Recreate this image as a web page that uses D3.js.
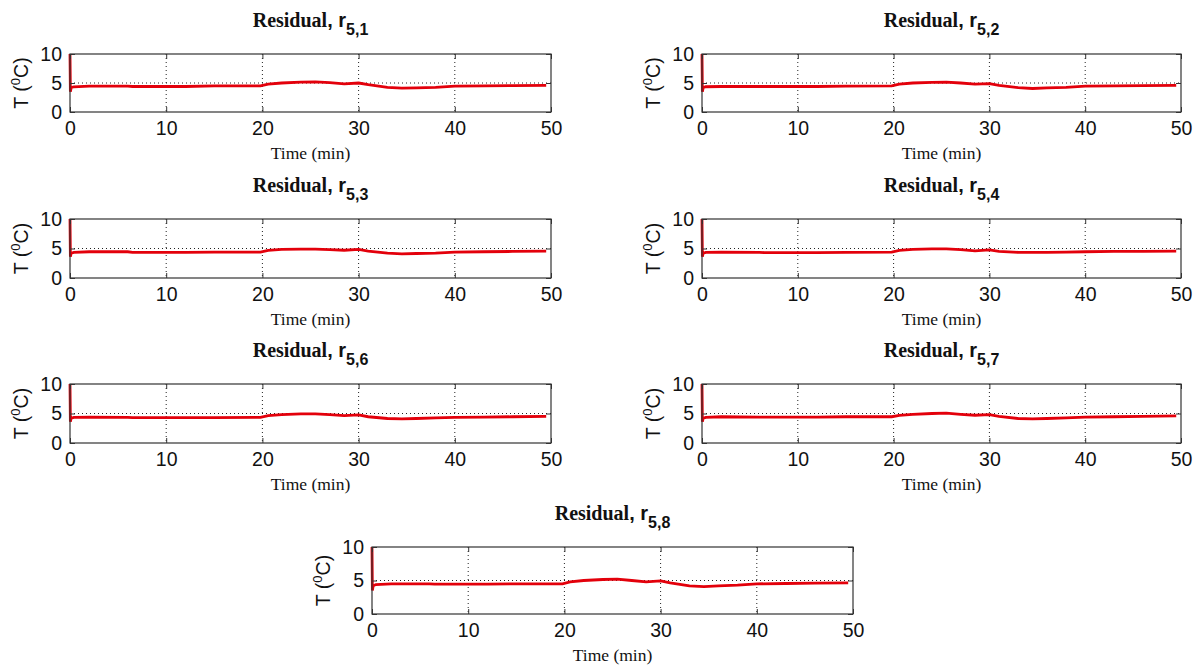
<!DOCTYPE html>
<html><head><meta charset="utf-8">
<script src="https://cdn.jsdelivr.net/npm/d3@7"></script>
<style>body{margin:0;background:#fff}</style>
</head><body>
<script>
const xTicks = [0,10,20,30,40,50];
const yTicks = [0,5,10];
const times = [0,0.04,0.12,0.4,2,6,6.5,12,15,19.8,20.6,22,24,25.5,27,28.5,30,31,33,34.5,36,38,40,43,46,49.5];
const panelNames = ["5,1","5,2","5,3","5,4","5,6","5,7","5,8"];
const r51 = [10,3.5,4.2,4.35,4.45,4.45,4.4,4.4,4.5,4.5,4.8,5.0,5.15,5.2,5.05,4.85,5.0,4.7,4.25,4.1,4.15,4.25,4.45,4.5,4.55,4.6];
const r52 = [10,3.5,4.2,4.35,4.4,4.4,4.4,4.4,4.45,4.5,4.8,5.0,5.1,5.15,5.0,4.8,4.9,4.6,4.2,4.05,4.15,4.25,4.45,4.5,4.55,4.6];
const r53 = [10,3.6,4.2,4.35,4.45,4.45,4.35,4.35,4.4,4.4,4.7,4.85,4.9,4.9,4.8,4.7,4.85,4.55,4.2,4.1,4.15,4.2,4.4,4.45,4.5,4.55];
const r54 = [10,3.6,4.2,4.35,4.4,4.35,4.3,4.3,4.35,4.4,4.7,4.85,4.95,4.95,4.8,4.6,4.75,4.5,4.35,4.35,4.35,4.4,4.45,4.5,4.5,4.55];
const r56 = [10,3.6,4.2,4.35,4.4,4.35,4.3,4.3,4.3,4.35,4.65,4.8,4.95,4.95,4.8,4.65,4.75,4.45,4.15,4.1,4.15,4.25,4.35,4.4,4.45,4.5];
const r57 = [10,3.6,4.2,4.35,4.45,4.4,4.4,4.4,4.45,4.45,4.7,4.85,5.0,5.05,4.85,4.7,4.8,4.5,4.15,4.1,4.15,4.25,4.4,4.45,4.5,4.6];
const r58 = [10,3.5,4.2,4.4,4.5,4.5,4.45,4.45,4.5,4.5,4.8,5.0,5.15,5.2,5.0,4.8,4.95,4.65,4.2,4.1,4.2,4.3,4.5,4.55,4.6,4.65];
const series = [r51,r52,r53,r54,r56,r57,r58];

const layout = [
  {x:70,y:54,w:481,h:58},{x:702,y:54,w:479,h:58},
  {x:70,y:219,w:481,h:59},{x:702,y:219,w:479,h:59},
  {x:70,y:384,w:481,h:59},{x:702,y:384,w:479,h:59},
  {x:372,y:547,w:481,h:67}
];

const svg = d3.select("body").append("svg").attr("width",1200).attr("height",668)
  .style("font-family","'Liberation Sans',Arial,sans-serif");

series.forEach((vals,i)=>{
  const L = layout[i];
  const g = svg.append("g").attr("transform",`translate(${L.x},${L.y})`);
  const x = d3.scaleLinear().domain([0,50]).range([0,L.w]);
  const y = d3.scaleLinear().domain([0,10]).range([L.h,0]);
  g.selectAll(".gx").data(xTicks.slice(1,-1)).join("line")
    .attr("x1",d=>x(d)).attr("x2",d=>x(d)).attr("y1",0).attr("y2",L.h)
    .attr("stroke","#222").attr("stroke-width",1).attr("stroke-dasharray","1,3");
  g.selectAll(".gy").data([5]).join("line")
    .attr("x1",0).attr("x2",L.w).attr("y1",d=>y(d)).attr("y2",d=>y(d))
    .attr("stroke","#222").attr("stroke-width",1).attr("stroke-dasharray","1,3");
  const data = times.map((t,k)=>[t,vals[k]]);
  g.append("path").datum(data)
    .attr("d",d3.line().x(d=>x(d[0])).y(d=>y(d[1])))
    .attr("fill","none").attr("stroke","#e3000b").attr("stroke-width",2.8);
  g.append("rect").attr("width",L.w).attr("height",L.h).attr("fill","none")
    .attr("stroke","#333").attr("stroke-width",1.2);
  const ax = g.append("g").attr("transform",`translate(0,${L.h})`)
    .call(d3.axisBottom(x).tickValues(xTicks).tickSize(-5).tickPadding(9));
  const ay = g.append("g").call(d3.axisLeft(y).tickValues(yTicks).tickSize(-5).tickPadding(8));
  const axT = g.append("g").call(d3.axisTop(x).tickValues(xTicks).tickSize(-5).tickFormat(""));
  const ayR = g.append("g").attr("transform",`translate(${L.w},0)`).call(d3.axisRight(y).tickValues(yTicks).tickSize(-5).tickFormat(""));
  [ax,ay,axT,ayR].forEach(a=>{a.select(".domain").remove();a.selectAll("line").attr("stroke","#333");});
  ax.selectAll("text").attr("font-size",19.5).attr("fill","#111").attr("font-family","'Liberation Sans',Arial,sans-serif");
  ay.selectAll("text").attr("font-size",19.5).attr("fill","#111").attr("font-family","'Liberation Sans',Arial,sans-serif");
  g.append("text").attr("x",L.w/2).attr("y",L.h+47).attr("text-anchor","middle")
    .attr("font-family","'Liberation Serif','Times New Roman',serif").attr("font-size",17.5).attr("fill","#111")
    .text("Time (min)");
  const yl = g.append("text").attr("transform",`translate(-42,${L.h/2}) rotate(-90)`)
    .attr("text-anchor","middle").attr("font-size",19.5).attr("fill","#111");
  yl.append("tspan").text("T (");
  yl.append("tspan").attr("font-size",13).attr("dy",-8).text("0");
  yl.append("tspan").attr("dy",8).text("C)");
  const tt = g.append("text").attr("x",L.w/2).attr("y",-27).attr("text-anchor","middle")
    .attr("font-weight","bold").attr("fill","#111");
  tt.append("tspan").attr("font-family","'Liberation Serif','Times New Roman',serif").attr("font-size",20).text("Residual");
  tt.append("tspan").attr("font-family","'Liberation Sans',Arial,sans-serif").attr("font-size",20).text(", r");
  tt.append("tspan").attr("font-family","'Liberation Sans',Arial,sans-serif").attr("font-size",16).attr("dy",8).text(panelNames[i]);
});
</script>
</body></html>
